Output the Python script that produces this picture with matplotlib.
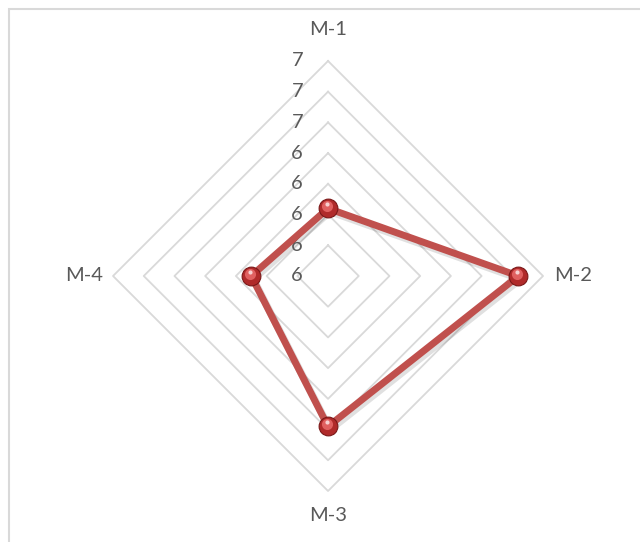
import numpy as np
import matplotlib
matplotlib.use("Agg")
import matplotlib.pyplot as plt
from matplotlib import transforms
from matplotlib.patches import Rectangle

categories = ["M-1", "M-2", "M-3", "M-4"]
values = [6.04, 6.84, 6.58, 6.10]
ticks = [5.6, 5.8, 6.0, 6.2, 6.4, 6.6, 6.8, 7.0]
tick_labels = ["{:.0f}".format(t) for t in ticks]

plt.rcParams['font.family'] = ['Lato', 'DejaVu Sans']

fig = plt.figure(figsize=(6.4, 5.42), dpi=100)
fig.patch.set_facecolor("white")

# chart-area border
fig.patches.append(Rectangle((8.5 / 640, -0.1), 1.2, 1 - 8.5 / 542 + 0.1,
                             transform=fig.transFigure, fill=False,
                             edgecolor="#d9d9d9", lw=1.5))

ax = fig.add_axes([0.1766, 0.0941, 0.6719, 0.7934], projection="polar")
ax.set_theta_offset(np.pi / 2)
ax.set_theta_direction(-1)
ax.set_ylim(ticks[0], ticks[-1])
ax.grid(False)
ax.set_xticks([])
ax.set_yticks([])
ax.spines["polar"].set_visible(False)
ax.patch.set_alpha(0)

n = len(categories)
angles = [2 * np.pi * i / n for i in range(n)]
closed_angles = angles + [angles[0]]

# diamond gridlines
for t in ticks[1:]:
    ax.plot(closed_angles, [t] * (n + 1), color="#d9d9d9", lw=1.3, zorder=1,
            clip_on=False)

# value labels along M-1 axis
for t, lab in zip(ticks, tick_labels):
    ax.annotate(lab, xy=(0, t), xytext=(-25, 0), textcoords="offset pixels",
                ha="right", va="center", fontsize=14.5, color="#595959",
                annotation_clip=False)

# category labels
offsets = [(0, 23, "center", "bottom"), (11, 0, "left", "center"),
           (0, -16, "center", "top"), (-10, 0, "right", "center")]
for ang, cat, (dx, dy, ha, va) in zip(angles, categories, offsets):
    ax.annotate(cat, xy=(ang, ticks[-1]), xytext=(dx, dy), textcoords="offset pixels",
                ha=ha, va=va, fontsize=14.5, color="#595959", annotation_clip=False)

vals_closed = values + [values[0]]
# shadow
shadow_tr = transforms.offset_copy(ax.transData, fig=fig, x=2, y=-3, units="dots")
ax.plot(closed_angles, vals_closed, color="black", alpha=0.12, lw=5.5,
        transform=shadow_tr, zorder=2, clip_on=False, solid_joinstyle="round")
# data line
ax.plot(closed_angles, vals_closed, color="#c0504d", lw=5, zorder=3,
        clip_on=False, solid_joinstyle="round")
# markers (sphere look)
ax.plot(angles, values, linestyle="none", marker="o", markersize=13.5,
        markerfacecolor="#b02a2a", markeredgecolor="#7a1818", markeredgewidth=0.8,
        zorder=4, clip_on=False)
hl_tr = transforms.offset_copy(ax.transData, fig=fig, x=-1, y=2, units="dots")
ax.plot(angles, values, linestyle="none", marker="o", markersize=8,
        markerfacecolor="#e06060", markeredgecolor="none", transform=hl_tr,
        zorder=5, clip_on=False)
hl_tr2 = transforms.offset_copy(ax.transData, fig=fig, x=-1, y=4, units="dots")
ax.plot(angles, values, linestyle="none", marker="o", markersize=3,
        markerfacecolor="#f7d0d0", markeredgecolor="none", transform=hl_tr2,
        zorder=6, clip_on=False)

fig.savefig("out.png", dpi=100)
